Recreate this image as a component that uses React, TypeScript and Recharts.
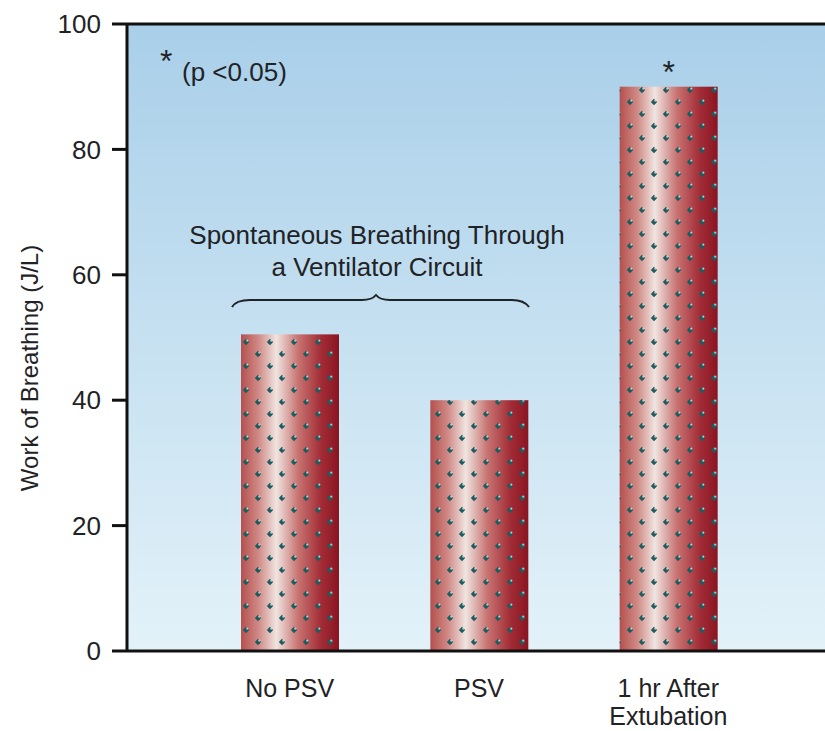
import { BarChart, Bar, XAxis, YAxis, CartesianGrid, ReferenceLine, LabelList, Customized } from "recharts";

const categories = ["No PSV", "PSV", "1 hr After\nExtubation"];
const workValues = [50.5, 40, 90];
const significant = [false, false, true];
const yTicks = [0, 20, 40, 60, 80, 100];

const data = categories.map((name, i) => ({ name, work: workValues[i], sig: significant[i] }));

const FONT = "'Liberation Sans', Arial, Helvetica, sans-serif";
const INK = "#1f2326";

function PatternBar(props: any) {
  const { x, y, width, height } = props;
  if (!height || height <= 0) return null;
  return (
    <g>
      <rect x={x} y={y} width={width} height={height} fill="url(#barMetal)" />
      <rect x={x} y={y} width={width} height={height} fill="url(#barDots)" />
    </g>
  );
}

function CategoryTick(props: any) {
  const { x, payload } = props;
  const lines = String(payload.value).split("\n");
  // baseline of the first line sits about 46px under the x axis line
  return (
    <text x={x} y={697} textAnchor="middle" fill={INK} fontSize={25} fontFamily={FONT}>
      {lines.map((ln, i) => (
        <tspan key={i} x={x} dy={i === 0 ? 0 : 28}>
          {ln}
        </tspan>
      ))}
    </text>
  );
}

function StarLabel(props: any) {
  const { x, y, width, index } = props;
  if (!significant[index]) return null;
  return (
    <text x={x + width / 2} y={y - 4} textAnchor="middle" fill={INK} fontSize={32} fontFamily={FONT}>
      *
    </text>
  );
}

function Annotations() {
  return (
    <g fontFamily={FONT} fill={INK}>
      <text x={29} y={368} fontSize={24} textAnchor="middle" dominantBaseline="central" transform="rotate(-90 29 368)">
        Work of Breathing (J/L)
      </text>
      <text x={160} y={72} fontSize={32}>*</text>
      <text x={182} y={81} fontSize={26}>(p &lt;0.05)</text>
      <text x={377} y={244} fontSize={26} textAnchor="middle">Spontaneous Breathing Through</text>
      <text x={377} y={276} fontSize={26} textAnchor="middle">a Ventilator Circuit</text>
      <path
        d="M232 307 Q236 300 250 300 L362 300 Q372 300 376 295 Q380 300 390 300 L512 300 Q524 300 529 307"
        fill="none"
        stroke={INK}
        strokeWidth={2}
      />
    </g>
  );
}

export default function App() {
  return (
    <div style={{ position: "absolute", left: 0, top: 0, background: "#fff" }}>
      <BarChart
        width={825}
        height={731}
        data={data}
        margin={{ top: 24, right: 0, bottom: 0, left: 0 }}
        barSize={98}
      >
        <defs>
          <linearGradient id="bgGrad" x1="0" y1="0" x2="0" y2="1">
            <stop offset="0%" stopColor="#a9cfe9" />
            <stop offset="100%" stopColor="#e3f2f9" />
          </linearGradient>
          <linearGradient id="barMetal" x1="0" y1="0" x2="1" y2="0">
            <stop offset="0%" stopColor="#b4504e" />
            <stop offset="18%" stopColor="#d08a86" />
            <stop offset="36%" stopColor="#f0e4e0" />
            <stop offset="58%" stopColor="#c87472" />
            <stop offset="82%" stopColor="#a22c36" />
            <stop offset="100%" stopColor="#8a1420" />
          </linearGradient>
          <pattern id="barDots" patternUnits="userSpaceOnUse" width="24" height="24">
            <path d="M6 2.8 L9.2 6 L6 9.2 L2.8 6 Z" fill="#1f5a5c" />
            <path d="M18 14.8 L21.2 18 L18 21.2 L14.8 18 Z" fill="#1f5a5c" />
            <circle cx="7.3" cy="4.7" r="1.1" fill="#ffffff" opacity="0.65" />
            <circle cx="19.3" cy="16.7" r="1.1" fill="#ffffff" opacity="0.65" />
          </pattern>
        </defs>
        <CartesianGrid horizontal={false} vertical={false} fill="url(#bgGrad)" />
        <XAxis
          dataKey="name"
          padding={{ left: 68, right: 62 }}
          height={80}
          axisLine={{ stroke: "#111", strokeWidth: 3 }}
          tickLine={false}
          tick={<CategoryTick />}
          interval={0}
        />
        <YAxis
          type="number"
          domain={[0, 100]}
          ticks={yTicks}
          width={127}
          tickSize={15}
          tickMargin={11}
          axisLine={{ stroke: "#111", strokeWidth: 3 }}
          tickLine={{ stroke: "#111", strokeWidth: 3 }}
          tick={{ fill: INK, fontSize: 26, fontFamily: FONT }}
        />
        <ReferenceLine y={100} stroke="#111" strokeWidth={3} />
        <Bar dataKey="work" shape={<PatternBar />} isAnimationActive={false}>
          <LabelList dataKey="work" content={<StarLabel />} />
        </Bar>
        <Customized component={<Annotations />} />
      </BarChart>
    </div>
  );
}
